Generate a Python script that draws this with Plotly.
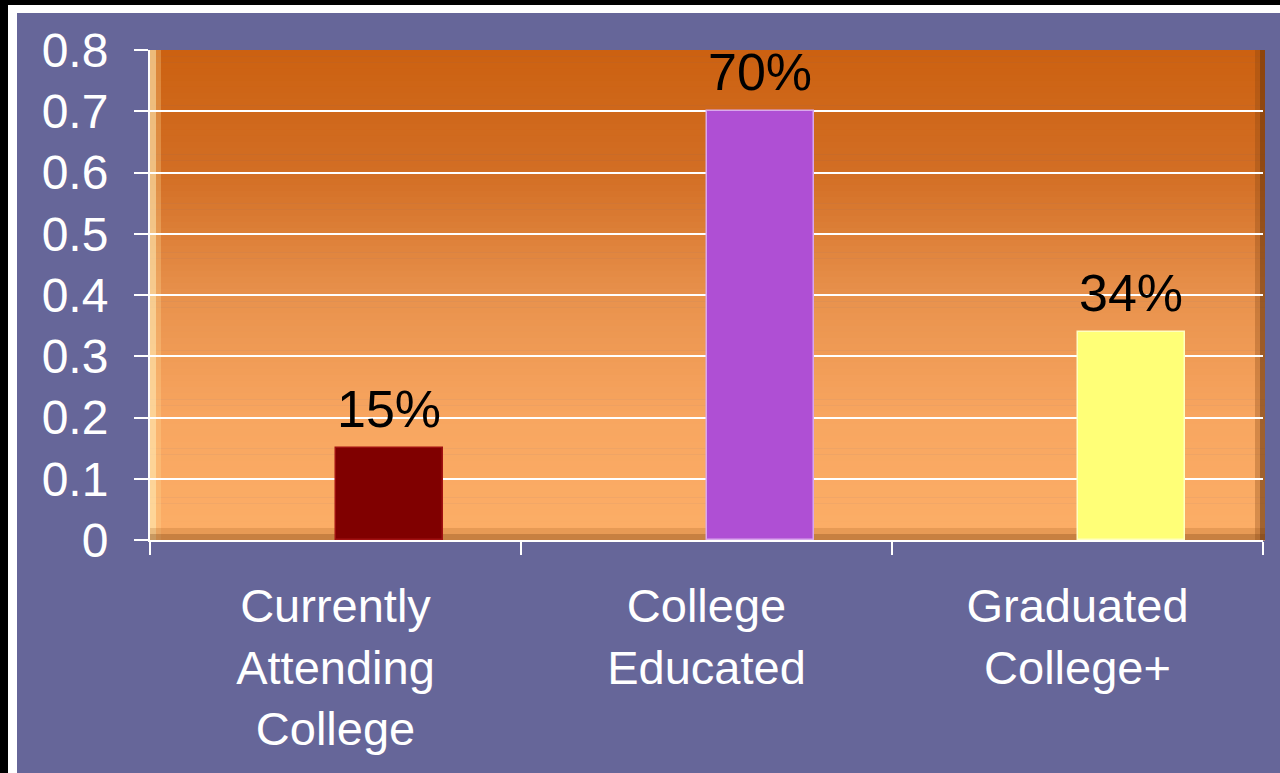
import plotly.graph_objects as go

# data
categories = ["Currently<br>Attending<br>College", "College<br>Educated", "Graduated<br>College+"]
values = [0.15, 0.70, 0.34]
labels = ["15%", "70%", "34%"]
bar_colors = ["#800000", "#AF4FD4", "#FFFF77"]
y_ticks = [0, 0.1, 0.2, 0.3, 0.4, 0.5, 0.6, 0.7, 0.8]

W, H = 1280, 773
L, R, T, B = 150, 1263, 50, 540  # plot area in pixels


def px_x(px):
    return (px - L) / (R - L)


def px_y(py):
    return (B - py) / (B - T)


def rect(x0, y0, x1, y1, color, layer="below"):
    return dict(type="rect", xref="paper", yref="paper",
                x0=px_x(x0), x1=px_x(x1), y0=px_y(y1), y1=px_y(y0),
                fillcolor=color, line_width=0, layer=layer)


def mix(c1, c2, t):
    return tuple(round(a + (b - a) * t) for a, b in zip(c1, c2))


# vertical orange gradient (top -> bottom)
stops = [(0.0, (204, 97, 17)), (0.25, (210, 110, 36)), (0.5, (232, 145, 76)),
         (0.75, (248, 166, 96)), (1.0, (252, 174, 103))]

shapes = []
# frame: black page edge, white border, purple card
shapes.append(rect(0, 0, 8, H, "black"))
shapes.append(rect(0, 0, W, 5, "black"))
shapes.append(rect(8, 5, 17, H, "white"))
shapes.append(rect(8, 5, W, 13, "white"))

n = 80
for i in range(n):
    t = (i + 0.5) / n
    for (s0, c0), (s1, c1) in zip(stops[:-1], stops[1:]):
        if s0 <= t <= s1:
            c = mix(c0, c1, (t - s0) / (s1 - s0))
            break
    y0 = T + (B - T) * i / n
    y1 = T + (B - T) * (i + 1) / n + 0.6
    shapes.append(rect(L, y0, R + 2, y1, "rgb(%d,%d,%d)" % c))

# bevel edges
shapes.append(rect(L, T, L + 6, B, "rgba(255,235,180,0.65)"))
shapes.append(rect(L + 6, T, L + 11, B, "rgba(255,220,150,0.3)"))
shapes.append(rect(L, B - 12, R + 2, B - 6, "rgba(150,80,20,0.2)"))
shapes.append(rect(L, B - 6, R + 2, B, "rgba(120,60,10,0.4)"))
shapes.append(rect(R - 8, T, R - 3, B, "rgba(130,65,15,0.3)"))
shapes.append(rect(R - 3, T, R + 2, B, "rgba(100,50,10,0.6)"))

fig = go.Figure()
fig.add_trace(go.Bar(
    x=categories,
    y=values,
    width=0.29,
    offset=0,
    marker=dict(color=bar_colors, line=dict(width=1.5, color=["#A01010", "#D9A8EC", "#FFFFC0"])),
    hoverinfo="skip",
))

annotations = [
    dict(x=i + 0.145, y=v, xref="x", yref="y", text=lab, showarrow=False,
         yanchor="bottom", yshift=8,
         font=dict(size=52, color="black", family="Liberation Sans, Arial"))
    for i, (v, lab) in enumerate(zip(values, labels))
]

fig.update_layout(
    width=W,
    height=H,
    autosize=False,
    margin=dict(l=L, r=W - R, t=T, b=H - B),
    paper_bgcolor="#666699",
    plot_bgcolor="rgba(0,0,0,0)",
    font=dict(family="Liberation Sans, Arial", color="white", size=48),
    showlegend=False,
    bargap=0,
    shapes=shapes,
    annotations=annotations,
)

fig.update_xaxes(
    range=[-0.5, 2.5],
    showline=True, linecolor="white", linewidth=2,
    ticks="outside", tickson="boundaries", ticklen=13, tickwidth=2, tickcolor="white",
    tickfont=dict(size=47, color="white"),
    ticklabelstandoff=24,
    showgrid=False,
)
fig.update_yaxes(
    range=[0, 0.8],
    tickvals=y_ticks,
    ticktext=[("%g" % v) for v in y_ticks],
    showline=True, linecolor="white", linewidth=2,
    ticks="outside", ticklen=14, tickwidth=2, tickcolor="white",
    tickfont=dict(size=48, color="white"),
    ticklabelstandoff=16,
    showgrid=True, gridcolor="white", gridwidth=2,
    zeroline=False,
)

fig.write_html("out.html", config={"displayModeBar": False},
               post_script="document.body.style.margin='0';")
